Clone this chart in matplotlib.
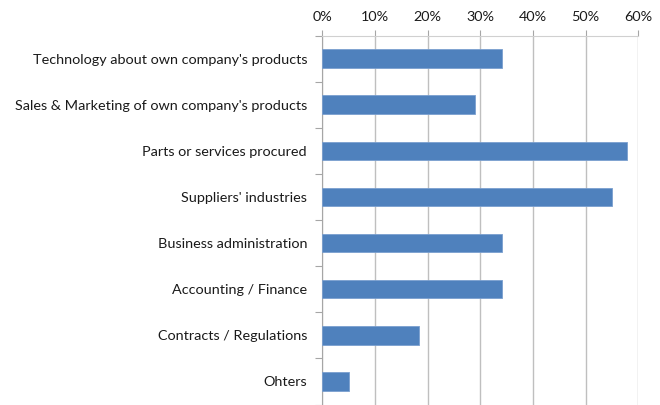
import matplotlib
matplotlib.use("Agg")
import matplotlib.pyplot as plt
from matplotlib.ticker import PercentFormatter, FixedLocator

categories = [
    "Technology about own company's products",
    "Sales & Marketing of own company's products",
    "Parts or services procured",
    "Suppliers' industries",
    "Business administration",
    "Accounting / Finance",
    "Contracts / Regulations",
    "Ohters",
]
shares = [34.1, 28.9, 57.9, 55.1, 34.1, 34.1, 18.4, 5.1]
x_ticks = [0, 10, 20, 30, 40, 50, 60]

plt.rcParams["font.family"] = ["Lato", "DejaVu Sans"]

W, H = 660, 405
fig = plt.figure(figsize=(W / 100, H / 100), dpi=100)
left, right, top, bottom = 322.3, 638.3, 35.5, 404.5
ax = fig.add_axes([left / W, 1 - bottom / H, (right - left) / W, (bottom - top) / H])

n = len(categories)
pos = list(range(n))
ax.barh(pos, shares, height=0.4, color="#4F81BD", edgecolor="#7A9FCF",
        linewidth=0.6, zorder=3)

ax.set_ylim(n - 0.5, -0.5)
ax.set_xlim(0, 60)

# category labels on the left, value axis on top
ax.set_yticks(pos)
ax.set_yticklabels(categories, fontsize=10.4, color="#1A1A1A")
ax.yaxis.set_minor_locator(FixedLocator([i - 0.5 for i in range(n + 1)]))
ax.tick_params(axis="y", which="major", length=0, pad=11)
ax.tick_params(axis="y", which="minor", length=5, width=0.8, color="#A6A6A6")

ax.xaxis.tick_top()
ax.set_xticks(x_ticks)
ax.xaxis.set_major_formatter(PercentFormatter(decimals=0))
ax.tick_params(axis="x", which="major", length=4, width=0.8, color="#A6A6A6",
               labelsize=10.4, labelcolor="#1A1A1A", pad=5)

ax.grid(axis="x", color="#BFBFBF", linewidth=1.0, zorder=0)
ax.set_axisbelow(True)

for side in ["right", "bottom"]:
    ax.spines[side].set_visible(False)
ax.spines["left"].set_color("#A6A6A6")
ax.spines["left"].set_linewidth(0.8)
ax.spines["top"].set_color("#D0D0D0")
ax.spines["top"].set_linewidth(0.8)

fig.savefig("out.png", dpi=100, facecolor="white")
